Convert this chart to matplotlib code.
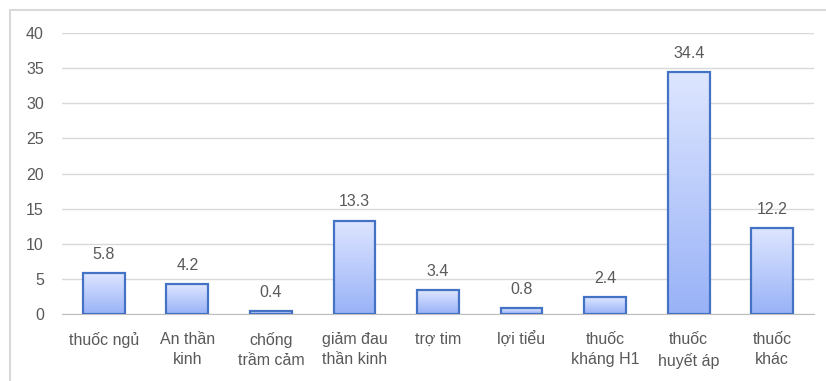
import matplotlib.pyplot as plt
import numpy as np
from matplotlib.patches import Rectangle

categories = ["thuốc ngủ", "An thần\nkinh", "chống\ntrầm cảm", "giảm đau\nthần kinh",
              "trợ tim", "lợi tiểu", "thuốc\nkháng H1", "thuốc\nhuyết áp", "thuốc\nkhác"]
values = [5.8, 4.2, 0.4, 13.3, 3.4, 0.8, 2.4, 34.4, 12.2]
yticks = [0, 5, 10, 15, 20, 25, 30, 35, 40]

text_color = "#595959"
grid_color = "#d9d9d9"
edge_color = "#4472c4"

plt.rcParams["font.family"] = ["Liberation Sans", "DejaVu Sans"]

fig = plt.figure(figsize=(8.26, 3.81), dpi=100)
W, H = 826, 381
ax = fig.add_axes([62 / W, 1 - 314 / H, (814 - 62) / W, (314 - 33) / H])

# outer chart frame
fig.patches.append(Rectangle((10 / W, -0.1), 1.2, 1 - 10 / H + 0.1, transform=fig.transFigure,
                             fill=False, edgecolor=grid_color, linewidth=1.5))

x = np.arange(len(categories))
ax.set_ylim(0, 40)
ax.set_yticks(yticks)
ax.yaxis.grid(True, color=grid_color, linewidth=1)
ax.set_axisbelow(True)
for s in ["top", "right", "left"]:
    ax.spines[s].set_visible(False)
ax.spines["bottom"].set_color("#bfbfbf")
ax.tick_params(axis="both", length=0, colors=text_color, labelsize=11.5)
ax.tick_params(axis="y", pad=13)
ax.tick_params(axis="x", pad=13)
ax.set_xticks(x)
ax.set_xticklabels(categories, linespacing=1.45)

# vertical gradient, light at top, darker at bottom
grad = np.linspace(0, 1, 256).reshape(-1, 1)
top = np.array([0.87, 0.90, 1.0])
bot = np.array([0.60, 0.70, 0.97])
img = (top * (1 - grad[..., None]) + bot * grad[..., None])

bw = 0.5
for xi, v in zip(x, values):
    rect = Rectangle((xi - bw / 2, 0), bw, v, facecolor="none", edgecolor=edge_color,
                     linewidth=1.6, zorder=3)
    ax.add_patch(rect)
    im = ax.imshow(img, extent=(xi - bw / 2, xi + bw / 2, 0, v), aspect="auto",
                   origin="upper", zorder=2)
    im.set_clip_path(rect)
    ax.text(xi, v + 1.6, f"{v:g}", ha="center", va="bottom", color=text_color, fontsize=11.5)

ax.set_xlim(-0.5, len(categories) - 0.5)
ax.set_ylim(0, 40)

fig.savefig("out.png", dpi=100)
